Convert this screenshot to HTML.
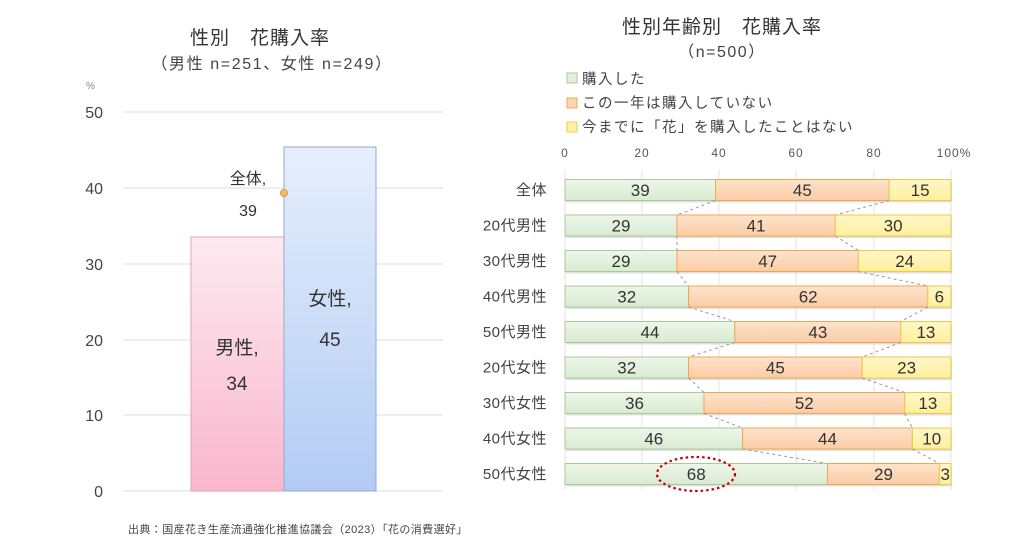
<!DOCTYPE html><html><head><meta charset="utf-8"><style>body{margin:0;background:#fff}svg{display:block;font-family:"Liberation Sans","Noto Sans CJK JP",sans-serif}</style></head><body>
<svg width="1024" height="544" viewBox="0 0 1024 544">
<defs>
<linearGradient id="pk" x1="0" y1="0" x2="0" y2="1"><stop offset="0" stop-color="#fdeaf0"/><stop offset="1" stop-color="#f9b6cc"/></linearGradient>
<linearGradient id="bl" x1="0" y1="0" x2="0" y2="1"><stop offset="0" stop-color="#e6effc"/><stop offset="1" stop-color="#b3cbf4"/></linearGradient>
<linearGradient id="gr" x1="0" y1="0" x2="0" y2="1"><stop offset="0" stop-color="#eef6ea"/><stop offset="1" stop-color="#d9ebd0"/></linearGradient>
<linearGradient id="or" x1="0" y1="0" x2="0" y2="1"><stop offset="0" stop-color="#fde3cc"/><stop offset="1" stop-color="#fbcda4"/></linearGradient>
<linearGradient id="ye" x1="0" y1="0" x2="0" y2="1"><stop offset="0" stop-color="#fff7c8"/><stop offset="1" stop-color="#ffef9c"/></linearGradient>
</defs>
<g fill="#333">
<text x="260" y="44" font-size="19" text-anchor="middle" letter-spacing="1">性別　花購入率</text>
<text x="272" y="69" font-size="16" text-anchor="middle" fill="#444" letter-spacing="1.6">（男性 n=251、女性 n=249）</text>
<text x="86" y="89" font-size="10" fill="#888">%</text>
</g>
<g stroke="#ddd" stroke-width="1">
<line x1="123" y1="112" x2="443" y2="112"/><line x1="123" y1="188" x2="443" y2="188"/><line x1="123" y1="264" x2="443" y2="264"/><line x1="123" y1="340" x2="443" y2="340"/><line x1="123" y1="415" x2="443" y2="415"/><line x1="123" y1="491" x2="443" y2="491"/>
</g>
<g font-size="16" fill="#444" text-anchor="end">
<text x="103" y="118">50</text><text x="103" y="194">40</text><text x="103" y="270">30</text><text x="103" y="346">20</text><text x="103" y="421">10</text><text x="103" y="497">0</text>
</g>
<rect x="191" y="237" width="93" height="254" fill="url(#pk)" stroke="#e3a4b8"/>
<rect x="284" y="147" width="92" height="344" fill="url(#bl)" stroke="#91aad6"/>
<circle cx="284" cy="193" r="3.5" fill="#f7b96a" stroke="#e09a40"/>
<g font-size="19" fill="#333" text-anchor="middle">
<text x="237" y="354">男性,</text><text x="237" y="390">34</text>
<text x="330" y="305">女性,</text><text x="330" y="346">45</text>
</g>
<g font-size="16" fill="#333" text-anchor="middle"><text x="248" y="184">全体,</text><text x="248" y="216">39</text></g>
<text x="128" y="533" font-size="11" fill="#444" letter-spacing="0.4">出典：国産花き生産流通強化推進協議会（2023）「花の消費選好」</text>

<g fill="#333" text-anchor="middle">
<text x="722" y="33" font-size="19" letter-spacing="1">性別年齢別　花購入率</text>
<text x="722" y="57" font-size="16" fill="#444" letter-spacing="1.5">（n=500）</text>
</g>
<g font-size="14.5" fill="#444" letter-spacing="1.5">
<rect x="567" y="73" width="10" height="10" fill="#e2efda" stroke="#a9c99a"/><text x="582" y="84">購入した</text>
<rect x="567" y="98" width="10" height="10" fill="#fcd5b4" stroke="#f4a955"/><text x="582" y="108">この一年は購入していない</text>
<rect x="567" y="122" width="10" height="10" fill="#fff2a8" stroke="#f0c94a"/><text x="582" y="132">今までに「花」を購入したことはない</text>
</g>
<g font-size="12" fill="#555" text-anchor="middle" letter-spacing="1">
<text x="565" y="157">0</text><text x="642" y="157">20</text><text x="719" y="157">40</text><text x="796" y="157">60</text><text x="874" y="157">80</text><text x="954" y="157">100%</text>
</g>
<g stroke="#e3e3e3"><line x1="565" y1="170" x2="565" y2="490"/><line x1="642" y1="170" x2="642" y2="490"/><line x1="719" y1="170" x2="719" y2="490"/><line x1="796" y1="170" x2="796" y2="490"/><line x1="874" y1="170" x2="874" y2="490"/><line x1="951" y1="170" x2="951" y2="490"/></g>
<g id="bars"></g>
<ellipse cx="696" cy="474" rx="39" ry="17" fill="none" stroke="#c00000" stroke-width="2.2" stroke-dasharray="2.5,3"/>
</svg>
<script>
var d=[["全体",39,45,15],["20代男性",29,41,30],["30代男性",29,47,24],["40代男性",32,62,6],["50代男性",44,43,13],["20代女性",32,45,23],["30代女性",36,52,13],["40代女性",46,44,10],["50代女性",68,29,3]];
var g=document.getElementById('bars'),s='',x0=565,w=386,h=21;
function X(p){return x0+w*p/100}
d.forEach(function(r,i){var cy=190+i*35.5,y=cy-h/2;var a=X(r[1]),b=X(r[1]+r[2]);
s+='<rect x="'+(x0+1)+'" y="'+(y+2)+'" width="'+w+'" height="'+h+'" fill="#ccc" opacity=".6"/>';
s+='<rect x="'+x0+'" y="'+y+'" width="'+(a-x0)+'" height="'+h+'" fill="url(#gr)" stroke="#a9c99a"/>';
s+='<rect x="'+a+'" y="'+y+'" width="'+(b-a)+'" height="'+h+'" fill="url(#or)" stroke="#f2a653"/>';
s+='<rect x="'+b+'" y="'+y+'" width="'+(X(100)-b)+'" height="'+h+'" fill="url(#ye)" stroke="#efc84a"/>';
s+='<text x="'+(x0+(a-x0)/2)+'" y="'+(cy+6)+'" font-size="17" fill="#333" text-anchor="middle">'+r[1]+'</text>';
s+='<text x="'+((a+b)/2)+'" y="'+(cy+6)+'" font-size="17" fill="#333" text-anchor="middle">'+r[2]+'</text>';
s+='<text x="'+((b+951)/2)+'" y="'+(cy+6)+'" font-size="17" fill="#333" text-anchor="middle">'+r[3]+'</text>';
s+='<text x="547" y="'+(cy+5)+'" font-size="15" fill="#444" text-anchor="end" letter-spacing="0.5">'+r[0]+'</text>';
if(i<d.length-1){var n=d[i+1],ny=cy+35.5-h/2;s+='<line x1="'+a+'" y1="'+(y+h)+'" x2="'+X(n[1])+'" y2="'+ny+'" stroke="#999" stroke-dasharray="3,3"/>';s+='<line x1="'+b+'" y1="'+(y+h)+'" x2="'+X(n[1]+n[2])+'" y2="'+ny+'" stroke="#999" stroke-dasharray="3,3"/>';}
});
g.innerHTML=s;
</script>
</body></html>
